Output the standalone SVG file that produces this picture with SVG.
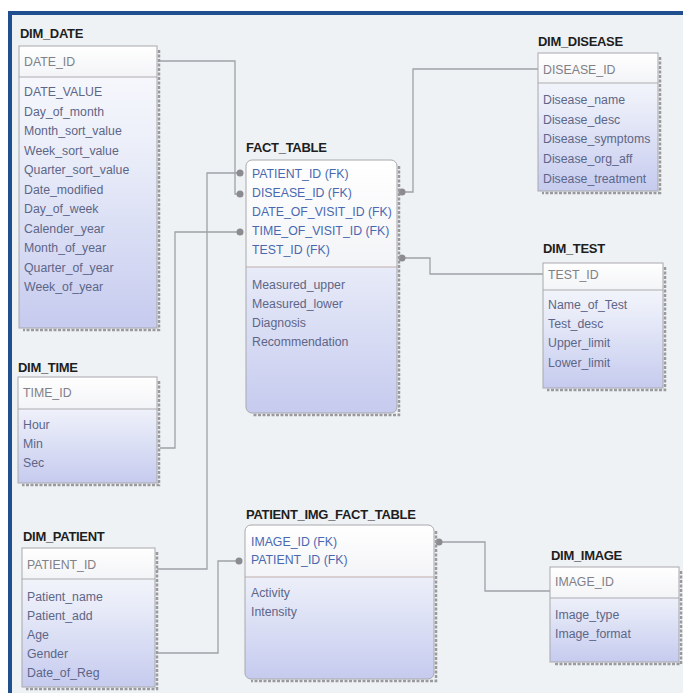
<svg xmlns="http://www.w3.org/2000/svg" width="683" height="693" viewBox="0 0 683 693">
<style>
text{font-family:"Liberation Sans",Arial,sans-serif;font-size:12.3px}
.ttl{font-weight:bold;font-size:13px;fill:#1e1e1e;letter-spacing:-0.3px}
.pk{fill:#808086}
.fk{fill:#4a68b0}
.at{fill:#5e6688}
.box{fill:url(#body)}
.hdr{fill:url(#head)}
.ol{fill:none;stroke:#a8a8ac;stroke-width:1}
.sep{stroke:#acacb0;stroke-width:1}
.sepf{stroke:#bfaeab;stroke-width:1.2}
.sh{fill:none;stroke:#9a9a9e;stroke-width:2.5;stroke-dasharray:3 1.5}
.cn{fill:none;stroke:#9ea1a5;stroke-width:1.3}
.dot{fill:#8c8c90}
</style>
<defs>
<linearGradient id="body" x1="0" y1="0" x2="0" y2="1">
<stop offset="0" stop-color="#fbfbfe"/>
<stop offset="0.35" stop-color="#eceff9"/>
<stop offset="1" stop-color="#c6cbef"/>
</linearGradient>
<linearGradient id="head" x1="0" y1="0" x2="0" y2="1">
<stop offset="0" stop-color="#ffffff"/>
<stop offset="1" stop-color="#f3f4f7"/>
</linearGradient>
</defs>
<rect x="0" y="0" width="683" height="693" fill="#ffffff"/>
<rect x="10" y="13" width="673" height="680" fill="#eef2f5"/>
<rect x="8" y="11" width="675" height="4" fill="#1f4f8f"/>
<rect x="8" y="11" width="4" height="682" fill="#1f4f8f"/>

<g id="connectors">
<polyline class="cn" points="160,61 235,61 235,194 240,194"/>
<polyline class="cn" points="157,569 207,569 207,173 240,173"/>
<polyline class="cn" points="160,448 175,448 175,232 240,232"/>
<polyline class="cn" points="158,653 218,653 218,561 239,561"/>
<polyline class="cn" points="439,542 485,542 485,591 550,591"/>
<polyline class="cn" points="402,192 413,192 413,69 538,69"/>
<polyline class="cn" points="402,258 430,258 430,274 543,274"/>
<circle class="dot" cx="240" cy="173" r="3.5"/>
<circle class="dot" cx="240" cy="194" r="3.5"/>
<circle class="dot" cx="240" cy="232" r="3.5"/>
<circle class="dot" cx="239" cy="561" r="3.5"/>
<circle class="dot" cx="439" cy="542" r="3.5"/>
<circle class="dot" cx="402" cy="192" r="3.5"/>
<circle class="dot" cx="402" cy="258" r="3.5"/>
</g>

<g id="DIM_DATE">
<text class="ttl" x="20" y="38">DIM_DATE</text>
<path class="sh" d="M159,50 V330 H23"/>
<rect class="box" x="19" y="46" width="138" height="282"/>
<rect class="hdr" x="19" y="46" width="138" height="31"/>
<line class="sep" x1="19" y1="77" x2="157" y2="77"/>
<rect class="ol" x="19" y="46" width="138" height="282"/>
<text class="pk" x="24" y="66">DATE_ID</text>
<text class="at" x="24" y="96">DATE_VALUE</text>
<text class="at" x="24" y="115.5">Day_of_month</text>
<text class="at" x="24" y="135">Month_sort_value</text>
<text class="at" x="24" y="154.5">Week_sort_value</text>
<text class="at" x="24" y="174">Quarter_sort_value</text>
<text class="at" x="24" y="193.5">Date_modified</text>
<text class="at" x="24" y="213">Day_of_week</text>
<text class="at" x="24" y="232.5">Calender_year</text>
<text class="at" x="24" y="252">Month_of_year</text>
<text class="at" x="24" y="271.5">Quarter_of_year</text>
<text class="at" x="24" y="291">Week_of_year</text>
</g>

<g id="DIM_TIME">
<text class="ttl" x="18" y="372">DIM_TIME</text>
<path class="sh" d="M159,381 V485 H22"/>
<rect class="box" x="18" y="377" width="139" height="106"/>
<rect class="hdr" x="18" y="377" width="139" height="32"/>
<line class="sep" x1="18" y1="409" x2="157" y2="409"/>
<rect class="ol" x="18" y="377" width="139" height="106"/>
<text class="pk" x="23" y="397">TIME_ID</text>
<text class="at" x="23" y="429">Hour</text>
<text class="at" x="23" y="448">Min</text>
<text class="at" x="23" y="467">Sec</text>
</g>

<g id="DIM_PATIENT">
<text class="ttl" x="23" y="541">DIM_PATIENT</text>
<path class="sh" d="M157,552 V689 H26"/>
<rect class="box" x="22" y="548" width="133" height="139"/>
<rect class="hdr" x="22" y="548" width="133" height="31"/>
<line class="sep" x1="22" y1="579" x2="155" y2="579"/>
<rect class="ol" x="22" y="548" width="133" height="139"/>
<text class="pk" x="27" y="569">PATIENT_ID</text>
<text class="at" x="27" y="601">Patient_name</text>
<text class="at" x="27" y="620">Patient_add</text>
<text class="at" x="27" y="639">Age</text>
<text class="at" x="27" y="658">Gender</text>
<text class="at" x="27" y="677">Date_of_Reg</text>
</g>

<g id="FACT_TABLE">
<text class="ttl" x="246" y="152">FACT_TABLE</text>
<path class="sh" d="M399,166 V415 H252"/>
<rect class="box" x="246" y="160" width="151" height="253" rx="6"/>
<path class="hdr" d="M246,267 V166 Q246,160 252,160 H391 Q397,160 397,166 V267 Z"/>
<line class="sepf" x1="246" y1="267" x2="397" y2="267"/>
<rect class="ol" x="246" y="160" width="151" height="253" rx="6"/>
<text class="fk" x="252" y="178">PATIENT_ID (FK)</text>
<text class="fk" x="252" y="197">DISEASE_ID (FK)</text>
<text class="fk" x="252" y="216">DATE_OF_VISIT_ID (FK)</text>
<text class="fk" x="252" y="235">TIME_OF_VISIT_ID (FK)</text>
<text class="fk" x="252" y="254">TEST_ID (FK)</text>
<text class="at" x="252" y="289">Measured_upper</text>
<text class="at" x="252" y="308">Measured_lower</text>
<text class="at" x="252" y="327">Diagnosis</text>
<text class="at" x="252" y="346">Recommendation</text>
</g>

<g id="DIM_DISEASE">
<text class="ttl" x="538" y="46">DIM_DISEASE</text>
<path class="sh" d="M660,57 V193 H542"/>
<rect class="box" x="538" y="53" width="120" height="138"/>
<rect class="hdr" x="538" y="53" width="120" height="30"/>
<line class="sep" x1="538" y1="83" x2="658" y2="83"/>
<rect class="ol" x="538" y="53" width="120" height="138"/>
<text class="pk" x="543" y="74">DISEASE_ID</text>
<text class="at" x="543" y="104">Disease_name</text>
<text class="at" x="543" y="124">Disease_desc</text>
<text class="at" x="543" y="143">Disease_symptoms</text>
<text class="at" x="543" y="163">Disease_org_aff</text>
<text class="at" x="543" y="183">Disease_treatment</text>
</g>

<g id="DIM_TEST">
<text class="ttl" x="543" y="253">DIM_TEST</text>
<path class="sh" d="M665,267 V390 H547"/>
<rect class="box" x="543" y="263" width="120" height="125"/>
<rect class="hdr" x="543" y="263" width="120" height="27"/>
<line class="sep" x1="543" y1="290" x2="663" y2="290"/>
<rect class="ol" x="543" y="263" width="120" height="125"/>
<text class="pk" x="548" y="279">TEST_ID</text>
<text class="at" x="548" y="309">Name_of_Test</text>
<text class="at" x="548" y="328">Test_desc</text>
<text class="at" x="548" y="347">Upper_limit</text>
<text class="at" x="548" y="367">Lower_limit</text>
</g>

<g id="PATIENT_IMG_FACT_TABLE">
<text class="ttl" x="246" y="519">PATIENT_IMG_FACT_TABLE</text>
<path class="sh" d="M436,531 V681 H251"/>
<rect class="box" x="245" y="525" width="189" height="154" rx="6"/>
<path class="hdr" d="M245,577 V531 Q245,525 251,525 H428 Q434,525 434,531 V577 Z"/>
<line class="sepf" x1="245" y1="577" x2="434" y2="577"/>
<rect class="ol" x="245" y="525" width="189" height="154" rx="6"/>
<text class="fk" x="251" y="546">IMAGE_ID (FK)</text>
<text class="fk" x="251" y="564">PATIENT_ID (FK)</text>
<text class="at" x="251" y="597">Activity</text>
<text class="at" x="251" y="616">Intensity</text>
</g>

<g id="DIM_IMAGE">
<text class="ttl" x="551" y="560">DIM_IMAGE</text>
<path class="sh" d="M681,571 V664 H554"/>
<rect class="box" x="550" y="567" width="129" height="95"/>
<rect class="hdr" x="550" y="567" width="129" height="31"/>
<line class="sep" x1="550" y1="598" x2="679" y2="598"/>
<rect class="ol" x="550" y="567" width="129" height="95"/>
<text class="pk" x="555" y="586">IMAGE_ID</text>
<text class="at" x="555" y="619">Image_type</text>
<text class="at" x="555" y="638">Image_format</text>
</g>
</svg>
